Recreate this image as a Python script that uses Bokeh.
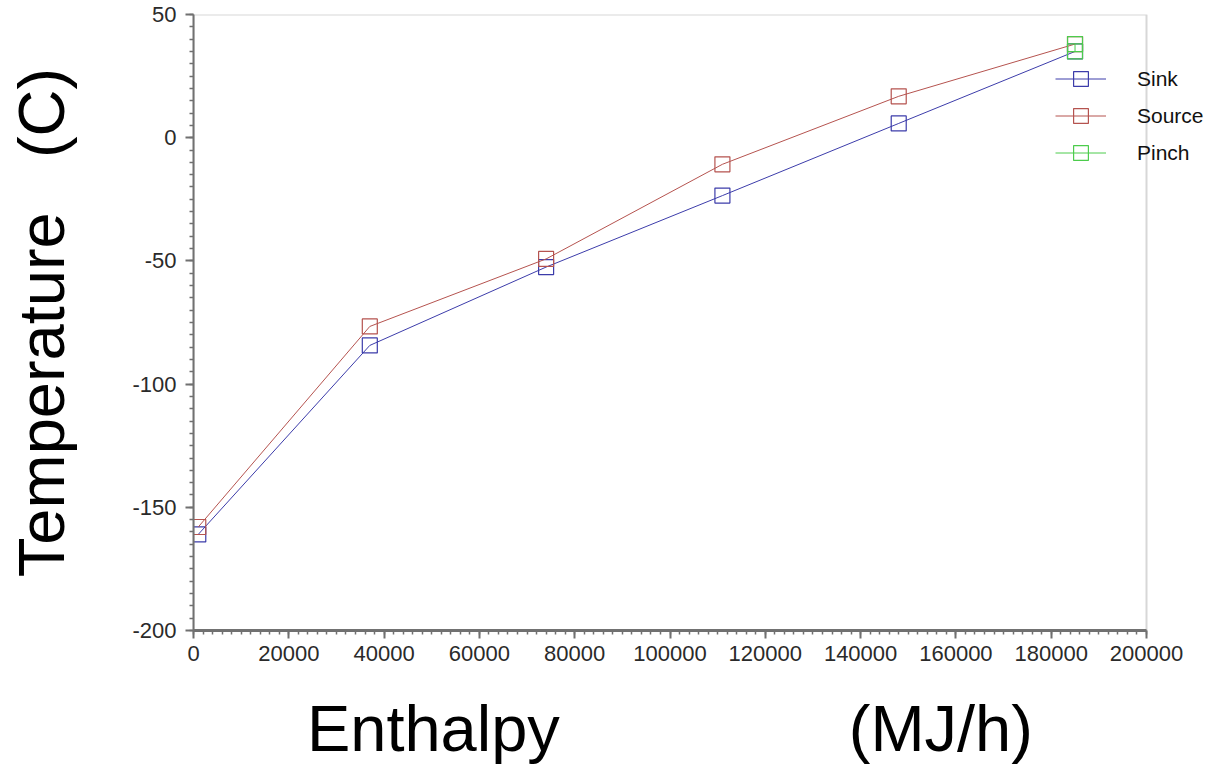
from bokeh.plotting import figure
from bokeh.models import (Range1d, SingleIntervalTicker, Legend, LegendItem,
                          PrintfTickFormatter, BoxAnnotation)
from bokeh.embed import file_html
from bokeh.resources import INLINE

# Data
enthalpy = [1000, 37000, 74000, 111000, 148000, 185000]
sink_temp = [-161, -84.3, -52.5, -23.5, 5.8, 35]
source_temp = [-158, -76.6, -49.2, -10.8, 16.8, 38]
pinch_enthalpy = [185000, 185000]
pinch_temp = [38, 35]

x_min, x_max = 0, 200000
y_min, y_max = -200, 50
x_ticks_interval = 20000
y_ticks_interval = 50

SINK = "#3c3caa"
SOURCE = "#b5534f"
PINCH = "#4ccc4c"
FONT = "Liberation Sans"

# frame extends to the right window edge so the legend is not clipped;
# the visible plot box stops at x_max
FRAME_PX = 953
EXTRA_PX = 1213 - 193 - FRAME_PX
x_view_end = x_max + (x_max - x_min) * EXTRA_PX / FRAME_PX

p = figure(width=1213, height=769, output_backend="svg", toolbar_location=None,
           x_range=Range1d(x_min, x_view_end), y_range=Range1d(y_min, y_max),
           min_border_left=193, min_border_right=0, min_border_top=14, min_border_bottom=139)

p.xgrid.visible = False
p.ygrid.visible = False
p.background_fill_color = "white"
p.border_fill_color = "white"
p.outline_line_color = None

box = BoxAnnotation(left=x_min, right=x_max, bottom=y_min, top=y_max,
                    fill_color=None, fill_alpha=0, line_color="#7a7a7a", line_width=2)
p.add_layout(box)

sink_line = p.line(enthalpy, sink_temp, line_color=SINK, line_width=1)
sink_pts = p.scatter(enthalpy, sink_temp, marker="square", size=15, fill_color=None,
                     line_color=SINK, line_width=1.2)
src_line = p.line(enthalpy, source_temp, line_color=SOURCE, line_width=1)
src_pts = p.scatter(enthalpy, source_temp, marker="square", size=15, fill_color=None,
                    line_color=SOURCE, line_width=1.2)
pin_line = p.line(pinch_enthalpy, pinch_temp, line_color=PINCH, line_width=1)
pin_pts = p.scatter(pinch_enthalpy, pinch_temp, marker="square", size=15, fill_color=None,
                    line_color=PINCH, line_width=1.2)

# axes
p.xaxis.ticker = SingleIntervalTicker(interval=x_ticks_interval, num_minor_ticks=10)
p.yaxis.ticker = SingleIntervalTicker(interval=y_ticks_interval, num_minor_ticks=10)
p.xaxis.formatter = PrintfTickFormatter(format="%d")
p.yaxis.formatter = PrintfTickFormatter(format="%d")
p.xaxis.bounds = (x_min, x_max)
for ax in (p.xaxis[0], p.yaxis[0]):
    ax.axis_line_color = "#707070"
    ax.major_tick_line_color = "#707070"
    ax.minor_tick_line_color = "#707070"
    ax.major_tick_line_width = 2
    ax.minor_tick_line_width = 1.5
    ax.major_tick_out = 8
    ax.major_tick_in = 0
    ax.minor_tick_out = 4
    ax.minor_tick_in = 0
    ax.major_label_text_font = FONT
    ax.major_label_text_font_size = "22px"
    ax.major_label_text_color = "#2a2a2a"
    ax.axis_label_text_font = FONT
    ax.axis_label_text_font_size = "65px"
    ax.axis_label_text_font_style = "normal"
    ax.axis_label_text_color = "#000000"

p.xaxis.axis_line_width = 3
p.yaxis.axis_line_width = 2
p.xaxis.major_label_standoff = 7
p.yaxis.major_label_standoff = 9
p.xaxis.axis_label = "Enthalpy" + "\u00a0" * 16 + "(MJ/h)" + "\u00a0" * 3 + "\u2009"
p.yaxis.axis_label = "Temperature\u00a0\u00a0\u00a0(C)"
p.xaxis.axis_label_standoff = 28
p.yaxis.axis_label_standoff = 51

legend = Legend(items=[
    LegendItem(label="Sink", renderers=[sink_line, sink_pts]),
    LegendItem(label="Source", renderers=[src_line, src_pts]),
    LegendItem(label="Pinch", renderers=[pin_line, pin_pts]),
], location=(862, 459))
legend.glyph_width = 51
legend.glyph_height = 37
legend.spacing = 0
legend.padding = 0
legend.margin = 0
legend.label_standoff = 31
legend.label_text_font = FONT
legend.label_text_font_size = "21px"
legend.label_text_color = "#111111"
legend.border_line_color = None
legend.background_fill_alpha = 0
p.add_layout(legend)

open("out.html", "w").write(file_html(p, INLINE))
